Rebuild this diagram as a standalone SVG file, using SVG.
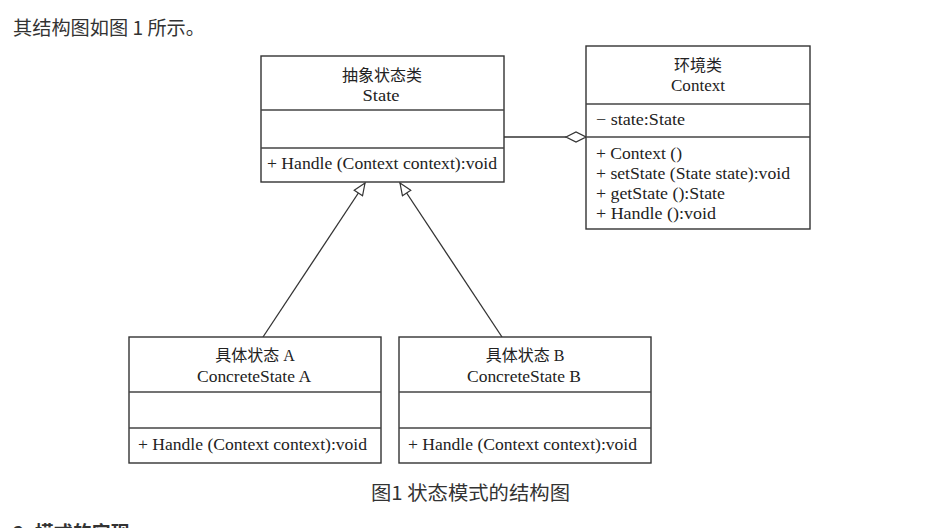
<svg xmlns="http://www.w3.org/2000/svg" width="936" height="528" viewBox="0 0 936 528">
<style>
.box{fill:#fff;stroke:#333;stroke-width:1.4}
.sep{stroke:#444;stroke-width:1.3}
.t{font-family:"Liberation Serif","Noto Sans CJK SC",serif;font-size:16px;fill:#222}
.c{text-anchor:middle}
.page{font-family:"Noto Sans CJK SC","Microsoft YaHei",sans-serif;font-size:19px;fill:#333}
.ln{stroke:#333;stroke-width:1.3;fill:none}
</style>
<defs>
<marker id="tri" viewBox="0 0 14 12" refX="13" refY="6" markerWidth="14" markerHeight="12" markerUnits="userSpaceOnUse" orient="auto">
<path d="M1,1 L13,6 L1,11 Z" fill="#fff" stroke="#333" stroke-width="1.2"/>
</marker>
</defs>
<rect width="936" height="528" fill="#fff"/>
<text class="page" x="13" y="35" textLength="192" lengthAdjust="spacingAndGlyphs">其结构图如图 1 所示。</text>

<g id="connectors">
<line class="ln" x1="263" y1="337" x2="365" y2="183" marker-end="url(#tri)"/>
<line class="ln" x1="502" y1="337" x2="400" y2="183" marker-end="url(#tri)"/>
<line class="ln" x1="504" y1="137" x2="566" y2="137"/>
<path d="M566,137 L576,132 L586,137 L576,142 Z" fill="#fff" stroke="#333" stroke-width="1.3"/>
</g>

<g id="State">
<rect class="box" x="261" y="56" width="243" height="126"/>
<line class="sep" x1="261" y1="110" x2="504" y2="110"/>
<line class="sep" x1="261" y1="148" x2="504" y2="148"/>
<text class="t c" x="382" y="81">抽象状态类</text>
<text class="t c" x="381" y="101" textLength="37" lengthAdjust="spacingAndGlyphs">State</text>
<text class="t" x="267" y="169" textLength="230" lengthAdjust="spacingAndGlyphs">+ Handle (Context context):void</text>
</g>

<g id="Context">
<rect class="box" x="586" y="46" width="224" height="183"/>
<line class="sep" x1="586" y1="104" x2="810" y2="104"/>
<line class="sep" x1="586" y1="137" x2="810" y2="137"/>
<text class="t c" x="698" y="71">环境类</text>
<text class="t c" x="698" y="91" textLength="54" lengthAdjust="spacingAndGlyphs">Context</text>
<text class="t" x="596" y="125" textLength="89" lengthAdjust="spacingAndGlyphs">− state:State</text>
<text class="t" x="596" y="159" textLength="86" lengthAdjust="spacingAndGlyphs">+ Context ()</text>
<text class="t" x="596" y="179" textLength="194" lengthAdjust="spacingAndGlyphs">+ setState (State state):void</text>
<text class="t" x="596" y="199" textLength="129" lengthAdjust="spacingAndGlyphs">+ getState ():State</text>
<text class="t" x="596" y="219" textLength="120" lengthAdjust="spacingAndGlyphs">+ Handle ():void</text>
</g>

<g id="ConcreteStateA">
<rect class="box" x="129" y="337" width="252" height="126"/>
<line class="sep" x1="129" y1="392" x2="381" y2="392"/>
<line class="sep" x1="129" y1="428" x2="381" y2="428"/>
<text class="t c" x="255" y="361">具体状态 A</text>
<text class="t c" x="254" y="382" textLength="114" lengthAdjust="spacingAndGlyphs">ConcreteState A</text>
<text class="t" x="138" y="450" textLength="229" lengthAdjust="spacingAndGlyphs">+ Handle (Context context):void</text>
</g>

<g id="ConcreteStateB">
<rect class="box" x="399" y="337" width="252" height="126"/>
<line class="sep" x1="399" y1="392" x2="651" y2="392"/>
<line class="sep" x1="399" y1="428" x2="651" y2="428"/>
<text class="t c" x="525" y="361">具体状态 B</text>
<text class="t c" x="524" y="382" textLength="114" lengthAdjust="spacingAndGlyphs">ConcreteState B</text>
<text class="t" x="408" y="450" textLength="229" lengthAdjust="spacingAndGlyphs">+ Handle (Context context):void</text>
</g>

<text class="page" x="371" y="500" textLength="199" lengthAdjust="spacingAndGlyphs">图1 状态模式的结构图</text>
<text class="page" x="13" y="540" font-weight="bold">2. 模式的实现</text>
</svg>
